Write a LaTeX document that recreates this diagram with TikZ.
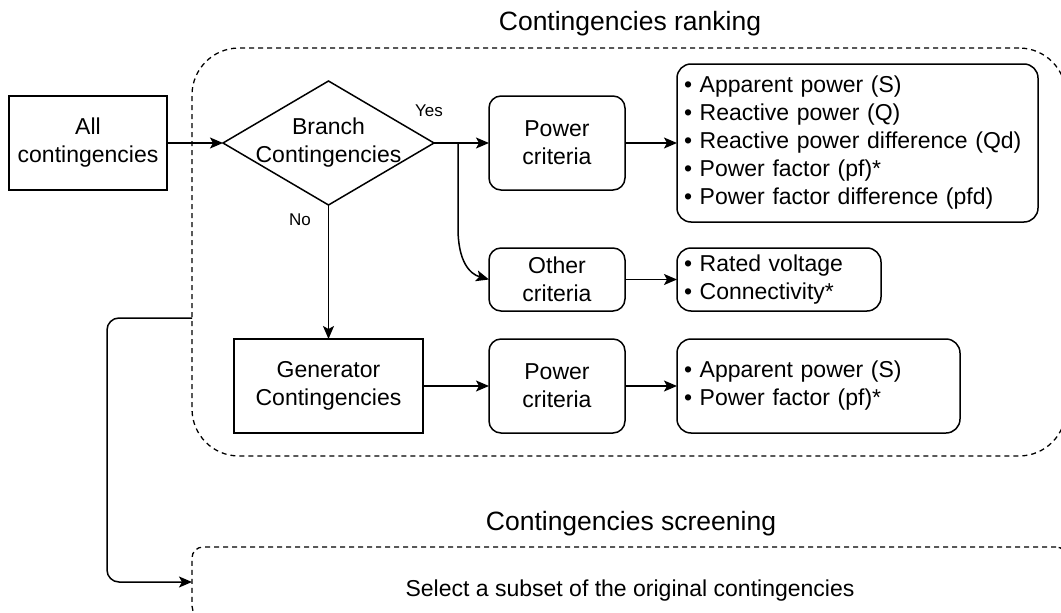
\documentclass[tikz,border=0pt]{standalone}
\usepackage{fontspec}
\setmainfont{Liberation Sans}
\usetikzlibrary{shapes.geometric,arrows.meta}
\begin{document}
\begin{tikzpicture}[x=1pt,y=-1pt,
  every node/.style={inner sep=0pt, outer sep=0pt, font=\fontsize{23}{28}\selectfont},
  box/.style={draw, line width=1.5pt, align=center},
  rbox/.style={box, rounded corners=12pt},
  lbox/.style={draw, line width=1.5pt, rounded corners=14pt, align=left, inner xsep=7pt},
  zone/.style={draw, line width=1.3pt, dash pattern=on 5pt off 4pt},
  link/.style={line width=1.5pt, -{Stealth[length=13pt,width=11pt,inset=3pt]}},
  title/.style={font=\fontsize{26.5}{32}\selectfont},
  tag/.style={font=\fontsize{17}{20}\selectfont}]
\useasboundingbox (0,0) rectangle (1061,613);
\clip (0,0) rectangle (1061,613);

% stage containers
\node[zone, rounded corners=47pt, minimum width=874pt, minimum height=408pt] (rank) at (629,252) {};
\node[zone, rounded corners=11pt, minimum width=875pt, minimum height=70pt] (screen) at (629.5,582) {};
\node[title] (rankt) at (630,24) {Contingencies ranking};
\node[title] (screent) at (631,524) {Contingencies screening};
\node (sel) at (630,591) {Select a subset of the original contingencies};

% flow nodes
\node[box, minimum width=158pt, minimum height=94pt] (all) at (88,143) {All\\contingencies};
\node[draw, line width=1.5pt, diamond, minimum width=211pt, minimum height=124pt] (br) at (328.5,143) {};
\node[align=center] (brt) at (br.center) {Branch\\Contingencies};
\node[rbox, minimum width=136pt, minimum height=94pt] (p1) at (557,143) {Power\\criteria};
\node[lbox, text width=347pt, minimum height=158pt] (l1) at (857.5,143)
  {• Apparent power (S)\\• Reactive power (Q)\\• Reactive power difference (Qd)\\• Power factor (pf)*\\• Power factor difference (pfd)};
\node[rbox, minimum width=136pt, minimum height=63pt] (oc) at (557,279.5) {Other\\criteria};
\node[lbox, text width=190pt, minimum height=63pt] (l2) at (779,279.5)
  {• Rated voltage\\• Connectivity*};
\node[box, minimum width=189pt, minimum height=94pt] (gen) at (328.5,386) {Generator\\Contingencies};
\node[rbox, minimum width=136pt, minimum height=94pt] (p2) at (557,386) {Power\\criteria};
\node[lbox, text width=269pt, minimum height=94pt] (l3) at (818.5,386)
  {• Apparent power (S)\\• Power factor (pf)*};

% connectors
\draw[link] (all.east) -- (br.west);
\draw[link] (br.east) -- (p1.west);
\coordinate (fork) at (458,143);
\draw[link] (fork) -- (458,228) .. controls (458,262) and (470,274) .. (oc.west);
\draw[link] (p1.east) -- (l1.west);
\draw[link] (oc.east) -- (l2.west);
\draw[link] (br.south) -- (gen.north);
\draw[link] (gen.east) -- (p2.west);
\draw[link] (p2.east) -- (l3.west);
\node[tag] (yes) at (429,111) {Yes};
\node[tag] (no) at (300,220) {No};

% hand-off from ranking to screening
\coordinate (tap) at ([yshift=-66pt]rank.west);
\draw[link, rounded corners=12pt] (tap) -| ([xshift=-85pt]screen.west) -- (screen.west);
\end{tikzpicture}
\end{document}
